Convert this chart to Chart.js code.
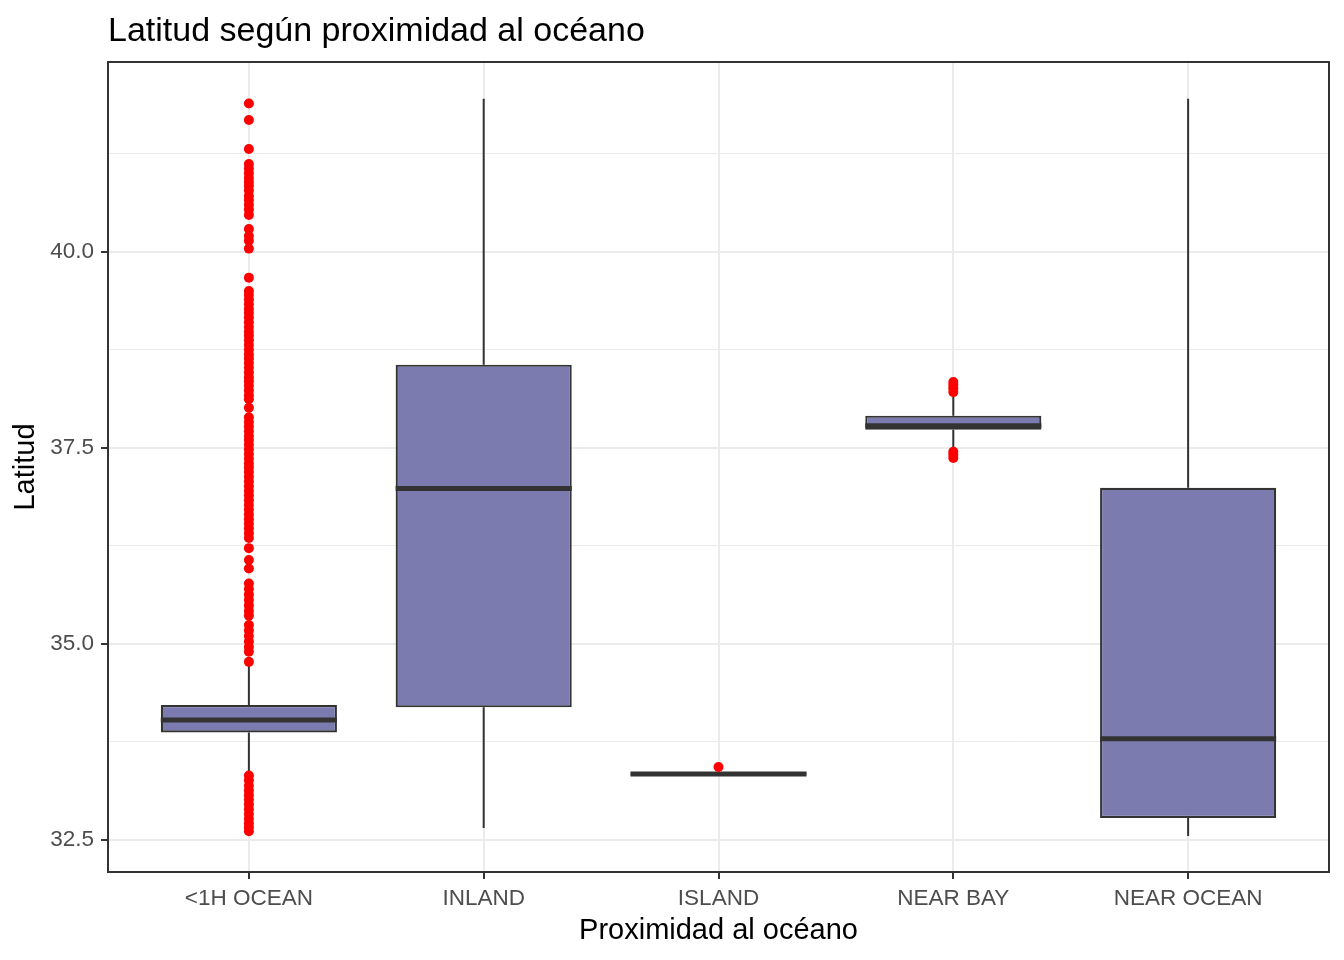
<!DOCTYPE html>
<html>
<head>
<meta charset="utf-8">
<script src="https://cdn.jsdelivr.net/npm/chart.js@4.4.1/dist/chart.umd.min.js"></script>
<style>
  html, body { margin: 0; padding: 0; background: #fff; }
  #wrap { position: relative; width: 1344px; height: 960px; }
  #titulo {
    position: absolute; left: 108px; top: 12px;
    font: 34px 'Liberation Sans', Arial, sans-serif; line-height: 34px;
    color: #000; white-space: nowrap;
  }
</style>
</head>
<body>
<div id="wrap">
  <canvas id="boxChart"></canvas>
  <div id="titulo">Latitud según proximidad al océano</div>
</div>
<script>
// Categorías y estadísticos de cada caja (latitud)
const categorias = ['<1H OCEAN', 'INLAND', 'ISLAND', 'NEAR BAY', 'NEAR OCEAN'];
const q1 = [33.87, 34.19, 33.33, 37.73, 32.78];
const mediana = [34.03, 36.98, 33.34, 37.78, 33.79];
const q3 = [34.22, 38.56, 33.35, 37.91, 36.99];
const bigoteInf = [33.355, 32.65, 33.33, 37.51, 32.55];
const bigoteSup = [34.73, 41.95, 33.35, 38.15, 41.95];

// Valores atípicos
const atipicos1hOcean = [
  41.89, 41.68, 41.31,
  41.12, 41.06, 41.00, 40.94, 40.89, 40.84, 40.78, 40.71, 40.66, 40.60, 40.54, 40.47,
  40.29, 40.20, 40.14, 40.04,
  39.67,
  39.50, 39.45, 39.39, 39.33, 39.27, 39.22, 39.16, 39.10, 39.04, 38.98, 38.93, 38.87,
  38.81, 38.75, 38.69, 38.64, 38.58, 38.52, 38.46, 38.40, 38.35, 38.29, 38.23, 38.17, 38.12,
  38.01,
  37.89, 37.83, 37.77, 37.71, 37.65, 37.60, 37.54, 37.48, 37.42, 37.36, 37.30, 37.25,
  37.19, 37.13, 37.07, 37.01, 36.95, 36.89, 36.83, 36.77, 36.71, 36.65, 36.59, 36.53,
  36.47, 36.41, 36.35,
  36.22, 36.07, 35.96,
  35.77, 35.70, 35.63, 35.56, 35.49, 35.42, 35.36,
  35.24,
  35.17, 35.10, 35.03, 34.96, 34.90,
  34.77,
  33.32, 33.26, 33.19, 33.13, 33.07, 33.01, 32.95, 32.89, 32.83, 32.77, 32.71, 32.66, 32.61
];
const atipicosInland = [];
const atipicosIsland = [33.43];
const atipicosNearBay = [38.34, 38.30, 38.26, 38.21, 37.45, 37.41, 37.37];
const atipicosNearOcean = [];

// Marcas del eje Y
const ticksMayores = [32.5, 35.0, 37.5, 40.0];
const ticksMenores = [33.75, 36.25, 38.75, 41.25];

const atipicos = [atipicos1hOcean, atipicosInland, atipicosIsland, atipicosNearBay, atipicosNearOcean];
const mitadCaja = 0.375;

const cajas = categorias.map((c, i) => ({ x: i, y: [q1[i], q3[i]] }));
const lineasMediana = categorias.flatMap((c, i) => [
  { x: i - mitadCaja, y: mediana[i] }, { x: i + mitadCaja, y: mediana[i] }, { x: i, y: null }
]);
const bigotes = categorias.flatMap((c, i) => [
  { x: i, y: bigoteInf[i] }, { x: i, y: q1[i] }, { x: i, y: null },
  { x: i, y: q3[i] }, { x: i, y: bigoteSup[i] }, { x: i, y: null }
]);
const puntos = atipicos.flatMap((lista, i) => lista.map(v => ({ x: i, y: v })));

// Borde del panel (estilo theme_bw)
const marcoPanel = {
  id: 'marcoPanel',
  afterDatasetsDraw(chart) {
    const { ctx, chartArea: a } = chart;
    ctx.save();
    ctx.strokeStyle = '#333333';
    ctx.lineWidth = 2;
    ctx.strokeRect(a.left, a.top, a.right - a.left, a.bottom - a.top);
    ctx.restore();
  }
};

Chart.defaults.font.family = "'Liberation Sans', Arial, sans-serif";

const ctx = document.getElementById('boxChart').getContext('2d');
const grafico = new Chart(ctx, {
  type: 'bar',
  data: {
    datasets: [
      {
        type: 'scatter',
        data: puntos,
        order: 0,
        pointRadius: 5,
        pointBackgroundColor: '#FF0000',
        pointBorderWidth: 0
      },
      {
        type: 'line',
        data: lineasMediana,
        order: 1,
        borderColor: '#333333',
        borderWidth: 5,
        borderCapStyle: 'butt',
        pointRadius: 0,
        spanGaps: false
      },
      {
        type: 'bar',
        data: cajas,
        order: 2,
        backgroundColor: '#7B7BB0',
        borderColor: '#333333',
        borderWidth: 2.2,
        borderSkipped: false,
        categoryPercentage: 1,
        barPercentage: 0.75
      },
      {
        type: 'line',
        data: bigotes,
        order: 3,
        borderColor: '#333333',
        borderWidth: 2,
        pointRadius: 0,
        spanGaps: false
      }
    ]
  },
  options: {
    responsive: true,
    maintainAspectRatio: false,
    animation: false,
    events: [],
    layout: { padding: { top: 62, right: 15, left: 0, bottom: 0 } },
    plugins: {
      legend: { display: false },
      tooltip: { enabled: false },
      title: { display: false }
    },
    scales: {
      x: {
        type: 'linear',
        min: -0.6,
        max: 4.6,
        offset: false,
        afterBuildTicks: s => { s.ticks = categorias.map((c, i) => ({ value: i })); },
        afterFit: s => { s.height = 88; },
        border: { display: false },
        grid: { offset: false, color: '#EBEBEB', lineWidth: 2, tickLength: 7, tickColor: '#333333', tickWidth: 2 },
        ticks: {
          autoSkip: false, maxRotation: 0, padding: 6,
          color: '#4D4D4D', font: { size: 22.5 },
          callback: v => categorias[v]
        },
        title: {
          display: true, text: 'Proximidad al océano', color: '#000',
          font: { size: 29 }, padding: { top: 0, bottom: 11.5 }
        }
      },
      y: {
        min: 32.09,
        max: 42.42,
        afterBuildTicks: s => {
          s.ticks = ticksMayores.map(v => ({ value: v, major: true }))
            .concat(ticksMenores.map(v => ({ value: v, major: false })))
            .sort((a, b) => a.value - b.value);
        },
        afterFit: s => { s.width = 108; },
        border: { display: false },
        grid: {
          color: '#EBEBEB',
          lineWidth: c => (c.tick && c.tick.major ? 2 : 1),
          tickLength: 7,
          tickColor: c => (c.tick && c.tick.major ? '#333333' : 'rgba(0,0,0,0)'),
          tickWidth: 2
        },
        ticks: {
          autoSkip: false, padding: 7,
          color: '#4D4D4D', font: { size: 22.5 },
          callback: (v, i, t) => (t[i].major ? v.toFixed(1) : '')
        },
        title: {
          display: true, text: 'Latitud', color: '#000',
          font: { size: 29 }, padding: { top: 9, bottom: 0 }
        }
      }
    }
  },
  plugins: [marcoPanel]
});
</script>
</body>
</html>
